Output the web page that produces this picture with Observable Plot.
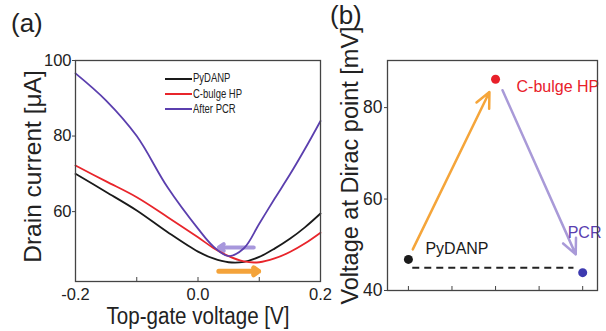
<!DOCTYPE html>
<html><head><meta charset="utf-8">
<script src="https://cdn.jsdelivr.net/npm/d3@7"></script>
<script src="https://cdn.jsdelivr.net/npm/@observablehq/plot@0.6"></script>
<style>
html,body{margin:0;padding:0;background:#fff;}
#wrap{position:relative;width:606px;height:331px;overflow:hidden;font-family:"Liberation Sans",Arial,sans-serif;}
#wrap > div{position:absolute;}
.lbl{font-size:26px;color:#222;line-height:30px;}
#legend{font-family:"Liberation Sans",Arial,sans-serif;font-size:12px;color:#222;line-height:15px;white-space:nowrap;}
#legend span.sw{display:inline-block;width:27px;height:0;border-top:2px solid;vertical-align:middle;margin-right:1px;}
#legend span.tx{display:inline-block;transform:scaleX(0.79);transform-origin:left center;vertical-align:middle;}
</style></head>
<body>
<div id="wrap">
  <div id="pa" style="left:0;top:0"></div>
  <div id="pb" style="left:330px;top:0"></div>
  <div class="lbl" style="left:11px;top:8px">(a)</div>
  <div class="lbl" style="left:330px;top:0px">(b)</div>
  <div id="legend" style="left:165px;top:71px"></div>
</div>
<script>
// ---- Panel (a) data ----
const gateV = [-0.2,-0.15,-0.1,-0.05,0,0.025,0.05,0.075,0.1,0.125,0.15,0.175,0.2];
const pydanpI = [70.0,65.2,60.3,54.6,49.4,47.6,46.6,46.7,48.0,50.2,52.8,55.9,59.5];
const cbulgeI = [72.2,68.0,63.8,58.6,53.2,50.4,48.2,46.8,46.6,47.6,49.3,51.6,54.4];
const afterPcrI = [96.6,89.4,80.0,66.5,55.5,50.8,48.2,50.3,56.8,63.4,69.8,76.7,84.0];
const seriesNames = ["PyDANP","C-bulge HP","After PCR"];
const seriesColors = ["#1a1a1a","#e8252b","#5b3fae"];
const xTicksA = [-0.2,-0.1,0,0.1,0.2];
const xLabelsA = [-0.2,0,0.2];
const yLabelsA = [60,80,100];
// shift arrows in (a)
const shiftArrowsA = [
  {x1:0.091, x2:0.034, y:50.5, color:"#a797dc", w:4},
  {x1:0.034, x2:0.099, y:44.2, color:"#f4a33a", w:5}
];

// ---- Panel (b) data ----
const stages = ["PyDANP","C-bulge HP","PCR"];
const stageX = [0,1,2];
const diracV = [46.8,86.2,43.9];
const stageColors = ["#1a1a1a","#e8202a","#3d3ab0"];
const stageLabelColors = ["#1a1a1a","#e8202a","#5a3eb0"];
const yLabelsB = [40,60,80];
const xTicksB = [0,0.5,1,1.5,2];
const arrowsB = [
  {x1:0.05, y1:49.0, x2:0.93, y2:83.4, color:"#f5a53a"},
  {x1:1.08, y1:83.8, x2:1.92, y2:47.9, color:"#a99ad8"}
];
const baseline = {x1:0.05, x2:1.9, y:45.0};

const rows = [];
[pydanpI, cbulgeI, afterPcrI].forEach((arr, si) =>
  arr.forEach((v, i) => rows.push({x: gateV[i], y: v, s: seriesNames[si]})));

const regular = "Liberation Sans, Arial, sans-serif";

const frameHA = 331 - 60 - 50;
const pa = Plot.plot({
  width: 345, height: 331,
  marginLeft: 75, marginRight: 25, marginTop: 60, marginBottom: 50,
  x: {domain: [-0.2, 0.2]},
  y: {domain: [41.5, 100]},
  color: {domain: seriesNames, range: seriesColors},
  style: {fontFamily: regular, background: "transparent", color: "#222", overflow: "visible"},
  marks: [
    Plot.arrow(shiftArrowsA, {x1:"x1", x2:"x2", y1:"y", y2:"y", stroke:"color", strokeWidth:"w", headLength: 9, headAngle: 70}),
    Plot.line(rows, {x:"x", y:"y", stroke:"s", strokeWidth: 1.8, curve: "catmull-rom"}),
    Plot.tickX(xTicksA, {x: d => d, insetTop: frameHA - 4, stroke:"#444"}),
    Plot.frame({stroke:"#444", strokeWidth: 1.3}),
    Plot.axisX(xLabelsA, {tickSize: 0, tickPadding: 7, fontSize: 16.5, tickFormat: d => d.toFixed(1), label: null}),
    Plot.axisY(yLabelsA, {tickSize: 3, tickPadding: 1, fontSize: 16.5, stroke: "#444", label: null}),
    Plot.text(["Top-gate voltage [V]"], {frameAnchor: "bottom", lineAnchor: "middle", dy: 35, fontSize: 23, fill: "#222", ariaLabel: "xtitle"}),
    Plot.text(["Drain current [μA]"], {frameAnchor: "left", textAnchor: "middle", lineAnchor: "middle", rotate: -90, dx: -42, dy: -4.5, fontSize: 24.5, fill: "#222"})
  ]
});
document.getElementById("pa").appendChild(pa);
// horizontally condense the x-axis title to the reference's width
pa.querySelectorAll("text").forEach(t => {
  if (t.textContent === "Top-gate voltage [V]") {
    t.setAttribute("textLength", 183);
    t.setAttribute("lengthAdjust", "spacingAndGlyphs");
  }
});

const labelDx = [17, 21, -15];
const labelDy = [-11, 8, -40];
const pb = Plot.plot({
  width: 276, height: 331,
  marginLeft: 57, marginRight: 9, marginTop: 60, marginBottom: 41,
  x: {domain: [-0.24, 2.17]},
  y: {domain: [40, 90.3]},
  style: {fontFamily: regular, background: "transparent", color: "#222", overflow: "visible"},
  marks: [
    Plot.ruleY([baseline], {x1:"x1", x2:"x2", y:"y", stroke:"#222", strokeWidth: 2, strokeDasharray: "7,5"}),
    Plot.arrow(arrowsB, {x1:"x1", y1:"y1", x2:"x2", y2:"y2", stroke:"color", strokeWidth: 2.5, headLength: 10, headAngle: 50}),
    Plot.dot(stageX, {x: d => d, y: (d,i) => diracV[i], fill: (d,i) => stageColors[i], r: 4.5}),
    ...stages.map((s, i) => Plot.text([i], {x: d => stageX[d], y: d => diracV[d], text: d => stages[d],
      fill: stageLabelColors[i], textAnchor: "start", fontSize: 16, dx: labelDx[i], dy: labelDy[i]})),
    Plot.tickX(xTicksB, {x: d => d, insetTop: 331 - 60 - 41 - 4, stroke:"#444"}),
    Plot.frame({stroke:"#444", strokeWidth: 1.3}),
    Plot.axisY(yLabelsB, {tickSize: 3, tickPadding: 2, fontSize: 17.5, fontFamily: "Liberation Sans Narrow, Liberation Sans, Arial, sans-serif", stroke: "#444", label: null}),
    Plot.axisX([], {label: null}),
    Plot.text(["Voltage at Dirac point [mV]"], {frameAnchor: "left", textAnchor: "middle", lineAnchor: "middle", rotate: -90, dx: -37, dy: -10, fontSize: 23.5, fill: "#222"})
  ]
});
document.getElementById("pb").appendChild(pb);

const leg = document.getElementById("legend");
seriesNames.forEach((n, i) => {
  const d = document.createElement("div");
  d.innerHTML = `<span class="sw" style="border-color:${seriesColors[i]}"></span><span class="tx">${n}</span>`;
  leg.appendChild(d);
});
</script>
</body></html>
